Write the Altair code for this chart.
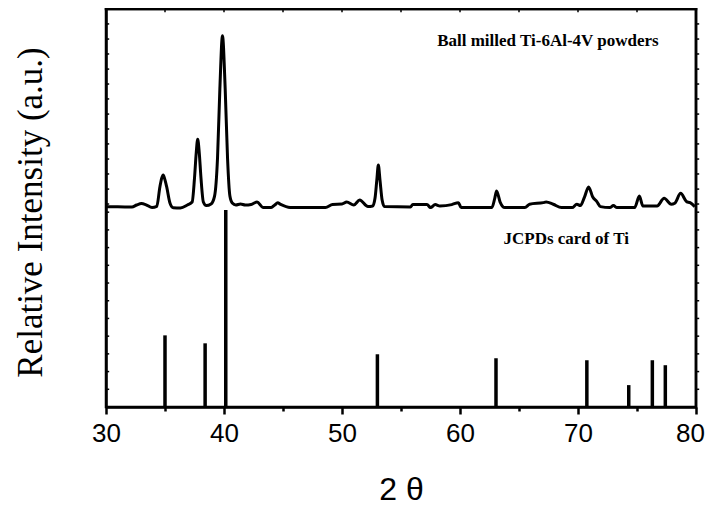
import altair as alt
import pandas as pd

# Measured pattern of ball milled Ti-6Al-4V (2theta, relative intensity, offset by ~100)
two_theta = [30.0, 31.0, 32.2, 32.6, 33.0, 33.4, 33.9, 34.3, 34.57, 34.72, 34.85, 34.98, 35.14, 35.42, 35.7,
             36.3, 36.9, 37.3, 37.5, 37.65, 37.77, 37.9, 38.05, 38.25, 38.5, 38.9, 39.2, 39.45, 39.65, 39.87,
             40.1, 40.3, 40.5, 40.7, 41.0, 41.4, 41.8, 42.3, 42.8, 43.3, 44.0, 44.3, 44.55, 44.8, 45.6,
             48.6, 49.2, 50.0, 50.4, 51.0, 51.5, 52.2, 52.6, 52.8, 52.95, 53.08, 53.22, 53.4, 53.6, 55.8,
             56.0, 57.2, 57.5, 57.9, 58.3, 59.3, 59.86, 60.1, 62.7, 62.95, 63.1, 63.4, 63.8, 65.5, 65.9,
             67.06, 67.3, 67.9, 68.6, 69.5, 69.9, 70.2, 70.55, 70.9, 71.25, 71.6, 71.9, 72.7, 73.0, 73.3,
             74.8, 75.2, 75.5, 76.7, 77.3, 77.9, 78.2, 78.7, 79.2, 79.5, 79.9]
intensity = [100.6, 100.6, 100.5, 101.5, 102.2, 101.6, 100.2, 100.8, 110.7, 115.0, 116.6, 114.5, 110.7, 102.5, 100.1,
             100.0, 101.5, 103.0, 115.0, 128.0, 134.5, 128.0, 115.0, 103.0, 101.2, 102.0, 106.0, 125.0, 160.0, 186.5,
             160.0, 125.0, 106.0, 102.5, 101.5, 102.0, 101.5, 101.8, 103.0, 100.3, 100.3, 101.5, 102.6, 101.8, 100.3,
             100.3, 101.8, 102.0, 103.0, 101.5, 104.0, 100.7, 101.0, 105.0, 114.0, 121.6, 114.0, 104.0, 100.7, 100.5,
             101.8, 101.8, 100.2, 101.7, 101.0, 101.7, 102.7, 100.2, 100.2, 105.0, 108.5, 103.0, 100.2, 100.2, 101.9,
             102.7, 103.0, 101.9, 100.2, 100.2, 101.9, 101.2, 105.5, 110.6, 105.5, 103.2, 100.7, 100.2, 101.2, 100.2,
             100.2, 106.0, 101.0, 101.0, 104.9, 101.9, 102.4, 107.4, 103.2, 102.7, 100.7]

# JCPDS card of Ti: line positions and relative intensities
card_theta = [35.0, 38.4, 40.15, 53.0, 63.05, 70.75, 74.3, 76.3, 77.4]
card_int = [36.0, 32.0, 99.0, 26.5, 24.5, 23.5, 11.0, 23.5, 21.0]

# Annotations
note_text = ["Ball milled Ti-6Al-4V powders", "JCPDs card of Ti"]
note_x = [67.45, 69.0]
note_y = [184.0, 84.5]

# Axis ranges and tick positions
x_range = [30, 80]
y_range = [0, 200]
x_ticks = [30, 35, 40, 45, 50, 55, 60, 65, 70, 75, 80]
y_ticks = [8.9, 17.8, 26.7, 35.6, 44.5, 53.4, 62.3, 71.2, 80.1, 89.0, 97.9,
           102.0, 109.5, 117.1, 124.6, 132.2, 139.7, 147.2, 154.8, 162.3, 169.8, 177.4, 184.9, 192.5]

# tick lengths expressed in axis units (style)
TICK_X = 0.27   # horizontal tick length in degrees (~3 px)
TICK_Y = 1.6    # vertical tick length in intensity units (~3 px)

pattern = pd.DataFrame({"t": two_theta, "i": intensity})
card = pd.DataFrame({"t": card_theta, "i": card_int})
notes = pd.DataFrame({"label": note_text, "t": note_x, "i": note_y})

x0, x1 = x_range
y0, y1 = y_range
frame = pd.DataFrame({"t": [x0, x1], "t2": [x1, x1], "i": [y1, y0], "i2": [y1, y1]})
ticks = pd.DataFrame({
    "t": [x0] * len(y_ticks) + [x1] * len(y_ticks) + x_ticks,
    "t2": [x0 + TICK_X] * len(y_ticks) + [x1 + TICK_X] * len(y_ticks) + x_ticks,
    "i": y_ticks + y_ticks + [y1] * len(x_ticks),
    "i2": y_ticks + y_ticks + [y1 - TICK_Y] * len(x_ticks),
})

xs = alt.Scale(domain=x_range, nice=False, zero=False, padding=0)
ys = alt.Scale(domain=y_range, nice=False, zero=False, padding=0)

x_axis = alt.Axis(
    values=x_ticks, labelExpr="datum.value % 10 == 0 ? datum.label : ''",
    orient="bottom", grid=False, domain=True, domainWidth=2.5, domainColor="black",
    tickSize={"condition": {"test": "datum.value % 10 == 0", "value": 7}, "value": 4},
    tickWidth=2.5, tickColor="black", labelFlush=False,
    labelOffset={"condition": {"test": "datum.value == 80", "value": -6}, "value": 0},
    labelFont="Liberation Sans", labelFontSize=26, labelColor="black", labelPadding=6,
    title="2 θ", titleFont="Liberation Sans", titleFontSize=32, titleFontWeight="normal",
    titleColor="black", titleX=295, titleY=82, titleBaseline="middle", titleAnchor="middle")

y_axis = alt.Axis(
    orient="left", grid=False, domain=True, domainWidth=2.5, domainColor="black",
    labels=False, ticks=False,
    title="Relative Intensity (a.u.)", titleFont="Liberation Serif", titleFontSize=35,
    titleFontWeight="normal", titleColor="black", titleAngle=-90, titleBaseline="middle",
    titleX=-76, titleY=203)


def X(f="t"):
    return alt.X(f + ":Q", scale=xs, axis=x_axis)


def Y(f="i"):
    return alt.Y(f + ":Q", scale=ys, axis=y_axis)


line = alt.Chart(pattern).mark_line(color="black", strokeWidth=3, interpolate="monotone").encode(
    x=X(), y=Y())

bars = alt.Chart(card).mark_bar(color="black", size=3.5).encode(x=X(), y=Y())

text = alt.Chart(notes).mark_text(font="Liberation Serif", fontWeight="bold", fontSize=17,
                                  color="black", align="center", baseline="middle").encode(
    x=X(), y=Y(), text="label:N")

edges = alt.Chart(frame).mark_rule(color="black", strokeWidth=2.5, strokeCap="square").encode(
    x=X(), x2="t2:Q", y=Y(), y2="i2:Q")

tick_marks = alt.Chart(ticks).mark_rule(color="black", strokeWidth=1.5).encode(
    x=X(), x2="t2:Q", y=Y(), y2="i2:Q")

chart = alt.layer(line, bars, text, edges, tick_marks).properties(
    width=590, height=398,
    autosize=alt.AutoSizeParams(type="none"),
    padding={"left": 98, "top": 1, "right": 9, "bottom": 99},
    background="white",
).configure_view(stroke="black", strokeWidth=2.5)

chart.save("out.html", embed_options={"renderer": "svg", "actions": False})
